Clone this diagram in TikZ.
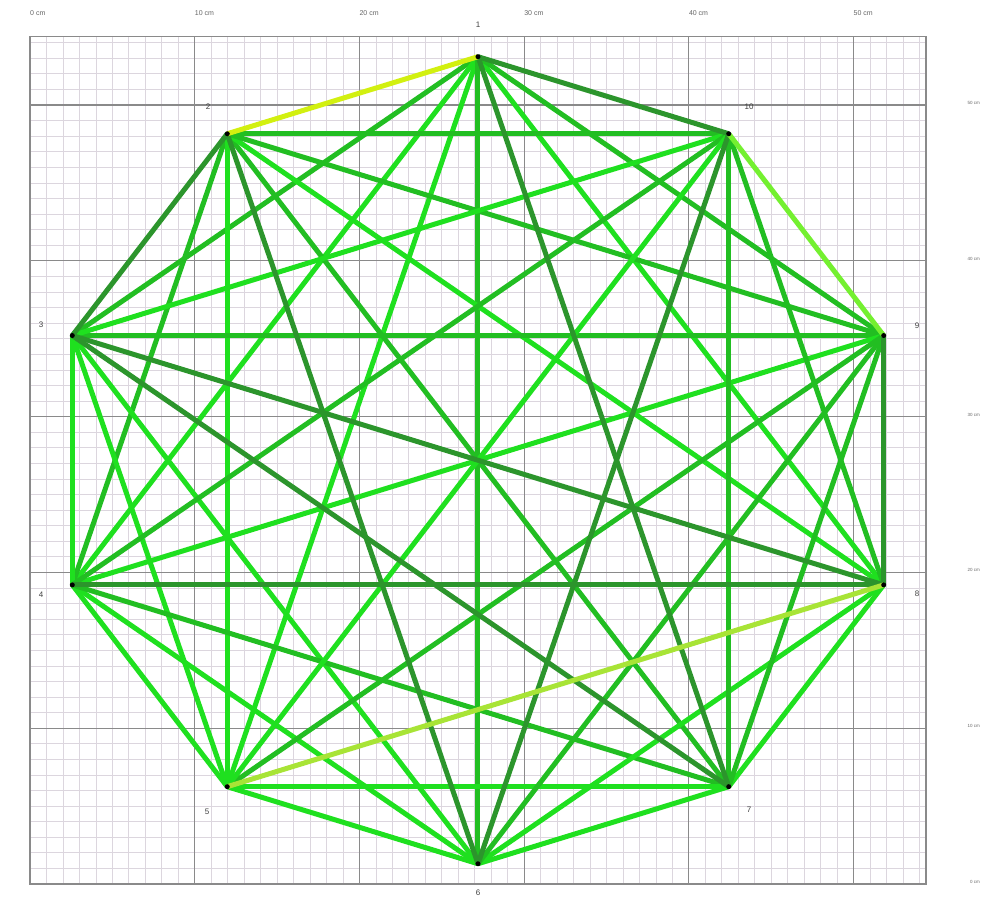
\documentclass[tikz,border=0pt]{standalone}
\usepackage{fontspec}
\setmainfont{Liberation Sans}
\definecolor{minorc}{HTML}{DCD6DE}
\definecolor{majorc}{HTML}{8A8A8A}
\definecolor{eB}{HTML}{1FE01F}
\definecolor{eM}{HTML}{22BE22}
\definecolor{eD}{HTML}{2C952C}
\definecolor{eY}{HTML}{D2F010}
\definecolor{eYG}{HTML}{A8E436}
\definecolor{eLG}{HTML}{74F030}
\tikzset{
  minorline/.style={draw=minorc, line width=0.7pt},
  majorline/.style={draw=majorc, line width=1.1pt},
  edge/.style={line width=5pt},
  vdot/.style={circle, fill=black, inner sep=0pt, minimum size=5pt},
  vlabel/.style={font=\fontsize{8}{8}\selectfont, text=black!75},
  axlabel/.style={font=\fontsize{7}{7}\selectfont, text=black!60, anchor=west, inner sep=0pt},
  aylabel/.style={font=\fontsize{4.5}{4.5}\selectfont, text=black!60, anchor=east, inner sep=0pt}
}
\begin{document}
\begin{tikzpicture}[x=16.47pt,y=15.58pt]
\useasboundingbox (-30pt,-13pt) rectangle (952pt,884pt);
\fill[white] (-30pt,-13pt) rectangle (952pt,884pt);
% grid
\foreach \i in {1,...,54} {
  \draw[minorline] (\i,0) -- (\i,54.4);
  \draw[minorline] (0,\i) -- (54.4,\i);
}
\foreach \i in {10,20,...,50} {
  \draw[majorline] (\i,0) -- (\i,54.4);
  \draw[majorline] (0,\i) -- (54.4,\i);
}
\draw[majorline] (0,0) rectangle (54.4,54.4);
% axis labels
\foreach \i in {0,10,...,50} {
  \node[axlabel] (xl\i) at (\i,55.9) {\i\ cm};
}
\foreach \i in {0,10,...,50} {
  \node[aylabel] (yl\i) at ([yshift=2pt]950pt,\i) {\i\ cm};
}
% vertices
\foreach \k in {1,...,10} {
  \coordinate (v\k) at ({27.2+25.9*cos(90+36*(\k-1))},{27.2+25.9*sin(90+36*(\k-1))});
}
% edges
\foreach \a/\b/\c in {
  1/3/eM, 1/4/eB, 1/5/eB, 1/6/eM, 1/8/eB, 1/9/eM,
  2/4/eM, 2/5/eB, 2/7/eM, 2/8/eB, 2/9/eM, 2/10/eM,
  3/4/eB, 3/5/eB, 3/6/eB, 3/9/eM, 3/10/eB,
  4/5/eB, 4/6/eB, 4/7/eM, 4/9/eB, 4/10/eM,
  5/6/eB, 5/7/eB, 5/9/eM, 5/10/eB,
  6/7/eB, 6/8/eB, 6/9/eM,
  7/8/eB, 7/9/eM, 7/10/eM, 8/10/eM,
  1/7/eD, 2/6/eD, 3/7/eD, 3/8/eD, 4/8/eD, 6/10/eD, 2/3/eD, 8/9/eD, 1/10/eD,
  9/10/eLG, 5/8/eYG, 1/2/eY} {
  \draw[edge, draw=\c] (v\a) -- (v\b);
}
% dots and labels
\foreach \k in {1,...,10} {
  \node[vdot] (d\k) at (v\k) {};
}
\node[vlabel] (l1) at (478pt-30pt, 884pt-25pt) {1};
\node[vlabel] (l2) at (208pt-30pt, 884pt-107pt) {2};
\node[vlabel] (l3) at (41pt-30pt, 884pt-325pt) {3};
\node[vlabel] (l4) at (41pt-30pt, 884pt-595pt) {4};
\node[vlabel] (l5) at (207pt-30pt, 884pt-812pt) {5};
\node[vlabel] (l6) at (478pt-30pt, 884pt-893pt) {6};
\node[vlabel] (l7) at (749pt-30pt, 884pt-810pt) {7};
\node[vlabel] (l8) at (917pt-30pt, 884pt-594pt) {8};
\node[vlabel] (l9) at (917pt-30pt, 884pt-326pt) {9};
\node[vlabel] (l10) at (749pt-30pt, 884pt-107pt) {10};
\end{tikzpicture}
\end{document}
